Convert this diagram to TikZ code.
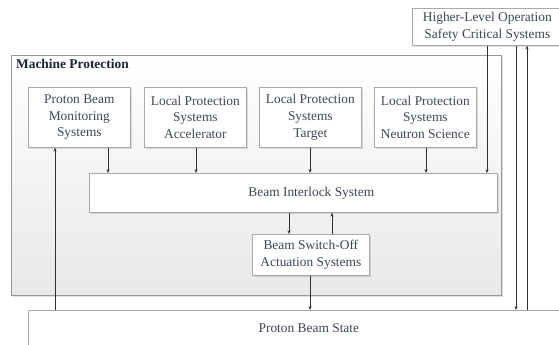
\documentclass[tikz,border=0pt]{standalone}
\usepackage{fontspec}
\setmainfont{Liberation Serif}
\usetikzlibrary{arrows.meta,shadows,positioning}
\definecolor{txt}{HTML}{3C4658}
\definecolor{ttl}{HTML}{1A2436}
\definecolor{bord}{HTML}{A8A8A8}
\definecolor{arr}{HTML}{303030}
\tikzset{
  box/.style={draw=bord, line width=0.7pt, fill=white, rectangle, inner sep=0pt,
    align=center, text=txt, font=\fontsize{13.4}{16.7}\selectfont, anchor=north west,
    drop shadow={opacity=0.25, shadow xshift=1.5pt, shadow yshift=-1.5pt}},
  outer/.style={draw=bord!90!black, line width=0.8pt, top color=white, bottom color=black!9,
    rectangle, inner sep=0pt, anchor=north west,
    drop shadow={opacity=0.25, shadow xshift=2pt, shadow yshift=-2pt}},
  conn/.style={draw=arr, line width=0.7pt, -{Stealth[length=3.8pt,width=3pt]}},
}
\begin{document}
\begin{tikzpicture}[x=1pt,y=1pt]
\useasboundingbox (0,0) rectangle (559,345);
% machine protection container
\node[outer, minimum width=490pt, minimum height=240pt] (mp) at (11,290) {};
\node[anchor=north west, inner sep=0pt, text=ttl, font=\fontsize{13.4}{16}\selectfont\bfseries] (mpt) at (16,286) {Machine Protection};
% boxes
\node[box, minimum width=150pt, minimum height=37pt] (hl) at (412,337) {Higher-Level Operation\\Safety Critical Systems};
\node[box, minimum width=102pt, minimum height=60pt] (pbm) at (28,258) {Proton Beam\\Monitoring\\Systems};
\node[box, minimum width=102pt, minimum height=60pt] (lpa) at (144,258) {Local Protection\\Systems\\Accelerator};
\node[box, minimum width=102pt, minimum height=60pt] (lpt) at (259,258) {Local Protection\\Systems\\Target};
\node[box, minimum width=102pt, minimum height=60pt] (lpn) at (374,258) {Local Protection\\Systems\\Neutron Science};
\node[box, minimum width=408pt, minimum height=39pt] (bis) at (89,172) {\hspace*{36pt}Beam Interlock System};
\node[box, minimum width=117pt, minimum height=41pt] (bso) at (252,111) {Beam Switch-Off\\Actuation Systems};
\node[box, minimum width=561pt, minimum height=36pt] (pbs) at (28,35) {Proton Beam State};
% x positions of connectors
\coordinate (x1) at (108,0);
\coordinate (x2) at (196,0);
\coordinate (x3) at (310,0);
\coordinate (x4) at (426,0);
\coordinate (x5) at (487,0);
\coordinate (x6) at (289,0);
\coordinate (x7) at (332,0);
\coordinate (x8) at (516,0);
\coordinate (x9) at (527,0);
\coordinate (x0) at (55,0);
% connectors
\draw[conn] (pbm.south -| x1) -- (bis.north -| x1);
\draw[conn] (lpa.south -| x2) -- (bis.north -| x2);
\draw[conn] (lpt.south -| x3) -- (bis.north -| x3);
\draw[conn] (lpn.south -| x4) -- (bis.north -| x4);
\draw[conn] (hl.south -| x5) -- (bis.north -| x5);
\draw[conn] (bis.south -| x6) -- (bso.north -| x6);
\draw[conn] (bso.north -| x7) -- (bis.south -| x7);
\draw[conn] (bso.south -| x3) -- (pbs.north -| x3);
\draw[conn] (hl.south -| x8) -- (pbs.north -| x8);
\draw[conn] (pbs.north -| x9) -- (hl.south -| x9);
\draw[conn] (pbs.north -| x0) -- (pbm.south -| x0);
\end{tikzpicture}
\end{document}
